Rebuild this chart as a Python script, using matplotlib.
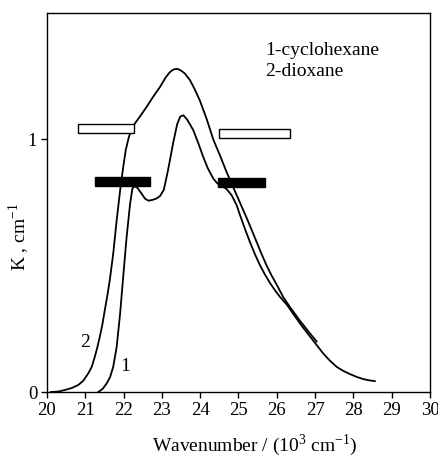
import matplotlib
matplotlib.use("Agg")
import matplotlib.pyplot as plt

plt.rcParams['font.family'] = ['Liberation Serif', 'DejaVu Serif']
plt.rcParams['mathtext.fontset'] = 'custom'
plt.rcParams['mathtext.rm'] = 'Liberation Serif'

# curve 1 - cyclohexane
nu1 = [21.34, 21.45, 21.56, 21.65, 21.73, 21.82, 21.91, 21.99, 22.08, 22.17,
       22.23, 22.28, 22.35, 22.47, 22.56, 22.65, 22.75, 22.85, 22.95, 23.05,
       23.15, 23.21, 23.30, 23.40, 23.48, 23.56, 23.65, 23.73, 23.82, 23.95,
       24.08, 24.20, 24.34, 24.45, 24.52, 24.60, 24.69, 24.82, 24.95, 25.04,
       25.17, 25.30, 25.43, 25.56, 25.69, 25.82, 25.95, 26.08, 26.25, 26.45,
       26.65, 26.87, 27.04, 27.21, 27.38, 27.56, 27.73, 27.91, 28.08, 28.26,
       28.42, 28.56]
k1 = [0.0, 0.012, 0.034, 0.06, 0.10, 0.179, 0.311, 0.456, 0.614, 0.745,
      0.805, 0.814, 0.81, 0.785, 0.765, 0.757, 0.76, 0.765, 0.775, 0.80,
      0.87, 0.917, 0.99, 1.06, 1.09, 1.095, 1.08, 1.06, 1.036, 0.985,
      0.93, 0.885, 0.845, 0.825, 0.818, 0.812, 0.803, 0.779, 0.74, 0.70,
      0.645, 0.593, 0.545, 0.502, 0.465, 0.432, 0.403, 0.377, 0.348, 0.305,
      0.262, 0.219, 0.186, 0.153, 0.125, 0.10, 0.084, 0.071, 0.06, 0.051,
      0.046, 0.043]

# curve 2 - dioxane
nu2 = [20.10, 20.30, 20.47, 20.65, 20.82, 20.95, 21.08, 21.17, 21.25, 21.32,
       21.38, 21.45, 21.51, 21.58, 21.64, 21.73, 21.82, 21.91, 21.99, 22.06,
       22.14, 22.22, 22.32, 22.45, 22.60, 22.78, 22.95, 23.10, 23.21, 23.30,
       23.40, 23.50, 23.60, 23.73, 23.85, 23.99, 24.17, 24.34, 24.52, 24.69,
       24.82, 24.95, 25.08, 25.21, 25.34, 25.47, 25.60, 25.73, 25.86, 25.99,
       26.17, 26.34, 26.60, 26.85, 27.04]
k2 = [0.0, 0.002, 0.008, 0.016, 0.028, 0.045, 0.074, 0.10, 0.14, 0.18,
      0.219, 0.27, 0.324, 0.385, 0.443, 0.548, 0.68, 0.798, 0.89, 0.96,
      1.01, 1.045, 1.068, 1.095, 1.128, 1.17, 1.207, 1.245, 1.266, 1.276,
      1.279, 1.272, 1.26, 1.235, 1.20, 1.154, 1.08, 1.0, 0.935, 0.87,
      0.825, 0.78, 0.735, 0.69, 0.643, 0.595, 0.547, 0.502, 0.462, 0.427,
      0.375, 0.337, 0.283, 0.235, 0.20]

# horizontal bars: left edge, right edge, centre
open_left = [20.82, 24.49]
open_right = [22.27, 26.34]
open_y = [1.043, 1.022]
solid_left = [21.25, 24.47]
solid_right = [22.69, 25.69]
solid_y = [0.832, 0.830]
bar_h = 0.034

fig = plt.figure(figsize=(4.39, 4.62), dpi=100)
ax = fig.add_axes([0.107, 0.1515, 0.8725, 0.8205])

ax.plot(nu1, k1, color='black', lw=1.3)
ax.plot(nu2, k2, color='black', lw=1.3)

for l, r, y in zip(open_left, open_right, open_y):
    ax.barh(y, r - l, left=l, height=bar_h, color='white', edgecolor='black', lw=1.0, zorder=3)
for l, r, y in zip(solid_left, solid_right, solid_y):
    ax.barh(y, r - l, left=l, height=bar_h, color='black', edgecolor='black', lw=1.0, zorder=3)

ax.text(20.99, 0.194, '2', fontsize=14, ha='center', va='center')
ax.text(22.04, 0.099, '1', fontsize=14, ha='center', va='center')
ax.text(25.69, 1.332, '1-cyclohexane', fontsize=14)
ax.text(25.69, 1.249, '2-dioxane', fontsize=14)

ax.set_xlim(20, 30)
ax.set_ylim(0, 1.5)
ax.set_xticks(range(20, 31))
ax.set_yticks([0, 1])
ax.tick_params(direction='out', length=4, width=1, labelsize=13.5, pad=3)
for s in ax.spines.values():
    s.set_linewidth(1.0)

ax.set_xlabel('Wavenumber / (10$^3$ cm$^{-1}$)', fontsize=14)
ax.set_ylabel('K , cm$^{-1}$', fontsize=14)
ax.xaxis.set_label_coords(0.543, -0.105)
ax.yaxis.set_label_coords(-0.04, 0.41)

fig.savefig('out.png', dpi=100)
